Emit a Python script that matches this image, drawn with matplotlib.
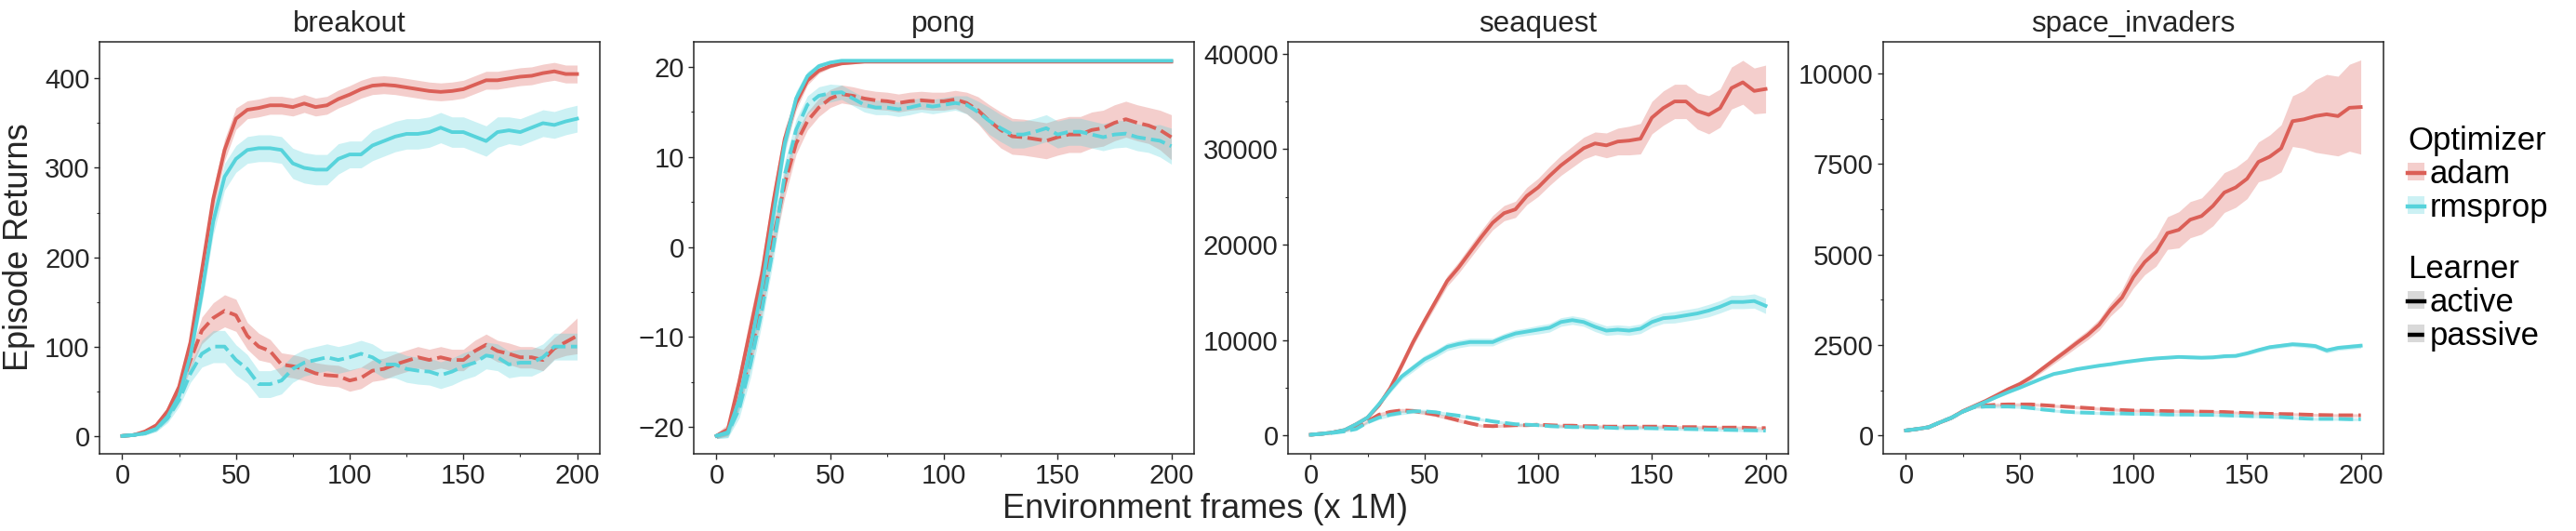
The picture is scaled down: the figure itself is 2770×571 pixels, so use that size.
import matplotlib
matplotlib.use("Agg")
import numpy as np
import matplotlib.pyplot as plt
from matplotlib.lines import Line2D
from matplotlib.patches import Patch
from matplotlib.ticker import MultipleLocator

plt.rcParams['font.family'] = ['Liberation Sans', 'DejaVu Sans']

# ---------------- data ----------------
frames = [0, 5, 10, 15, 20, 25, 30, 35, 40, 45, 50, 55, 60, 65, 70, 75, 80, 85, 90, 95, 100,
          105, 110, 115, 120, 125, 130, 135, 140, 145, 150, 155, 160, 165, 170, 175, 180, 185, 190, 195, 200]
games = ["breakout", "pong", "seaquest", "space_invaders"]
optimizers = ["adam", "rmsprop"]
learners = ["active", "passive"]

# breakout
breakout_adam_active = [0, 1, 5, 12, 28, 55, 105, 185, 265, 320, 355, 365, 367, 370, 370, 368, 372, 368, 370, 377,
                        382, 388, 392, 393, 392, 390, 388, 386, 385, 386, 388, 393, 398, 398, 400, 402, 403, 406, 408, 405, 405]
breakout_rmsprop_active = [0, 1, 3, 8, 22, 45, 90, 160, 240, 290, 310, 320, 322, 322, 320, 305, 300, 298, 298, 310,
                           315, 315, 325, 330, 335, 338, 338, 340, 345, 340, 340, 335, 330, 340, 342, 340, 345, 350, 348, 352, 355]
breakout_adam_passive = [0, 1, 4, 10, 25, 50, 85, 118, 132, 140, 135, 112, 100, 95, 80, 78, 75, 70, 68, 67,
                         62, 65, 73, 75, 80, 84, 88, 85, 88, 85, 85, 95, 102, 95, 92, 88, 88, 85, 98, 105, 112]
breakout_rmsprop_passive = [0, 1, 3, 8, 20, 40, 70, 92, 100, 100, 85, 75, 58, 58, 62, 75, 82, 85, 88, 85,
                            88, 92, 88, 80, 80, 75, 73, 72, 68, 72, 78, 82, 90, 88, 80, 82, 82, 88, 100, 100, 100]
breakout_adam_active_sd = [1, 1, 2, 3, 5, 6, 8, 10, 12, 12, 12, 10, 10, 10, 10, 10, 10, 10, 10, 10,
                           10, 10, 10, 10, 10, 10, 10, 10, 10, 10, 10, 10, 10, 10, 10, 10, 10, 10, 10, 10, 10]
breakout_rmsprop_active_sd = [1, 1, 2, 3, 5, 6, 8, 12, 15, 15, 15, 15, 15, 15, 15, 17, 17, 17, 17, 17,
                              15, 15, 17, 17, 17, 17, 17, 17, 17, 17, 17, 17, 17, 17, 15, 15, 15, 15, 15, 15, 15]
breakout_adam_passive_sd = [1, 1, 2, 3, 5, 7, 10, 15, 17, 18, 18, 15, 15, 13, 13, 13, 13, 12, 12, 12,
                            12, 12, 12, 12, 12, 12, 12, 12, 12, 12, 12, 12, 12, 12, 12, 12, 12, 12, 12, 15, 20]
breakout_rmsprop_passive_sd = [1, 1, 2, 3, 5, 7, 10, 15, 18, 18, 17, 16, 15, 15, 15, 15, 15, 15, 15, 15,
                               15, 15, 15, 15, 15, 15, 15, 15, 15, 15, 15, 15, 15, 15, 15, 15, 15, 15, 15, 15, 15]

# pong
pong_adam_active = [-21, -20.3, -15, -9, -3, 5, 12, 16, 18.5, 19.6, 20.1, 20.4, 20.5, 20.6, 20.6, 20.6, 20.6, 20.6, 20.6, 20.6,
                    20.6, 20.6, 20.6, 20.6, 20.6, 20.6, 20.6, 20.6, 20.6, 20.6, 20.6, 20.6, 20.6, 20.6, 20.6, 20.6, 20.6, 20.6, 20.6, 20.6, 20.6]
pong_rmsprop_active = [-21, -20.6, -17, -11, -4.5, 3.5, 11.5, 16.5, 19, 20.1, 20.5, 20.7, 20.7, 20.7, 20.7, 20.7, 20.7, 20.7, 20.7, 20.7,
                       20.7, 20.7, 20.7, 20.7, 20.7, 20.7, 20.7, 20.7, 20.7, 20.7, 20.7, 20.7, 20.7, 20.7, 20.7, 20.7, 20.7, 20.7, 20.7, 20.7, 20.7]
pong_adam_passive = [-21, -20.5, -17, -12, -6, 1, 7, 11.5, 14, 15.5, 16.5, 17, 16.8, 16.5, 16.3, 16.2, 16, 16.2, 16.3, 16.2,
                     16.2, 16.4, 16, 15.2, 14, 13, 12.3, 12.2, 12, 11.8, 12.2, 12.5, 12.5, 13, 13.2, 13.8, 14.2, 13.8, 13.5, 13, 12.2]
pong_rmsprop_passive = [-21, -20.7, -18, -13, -7, 0, 8, 13, 15.8, 16.8, 17.1, 17.2, 16.5, 15.8, 15.5, 15.5, 15.3, 15.5, 15.8, 15.6,
                        15.8, 16, 15.8, 15, 14, 13.2, 12.5, 12.5, 12.8, 13.2, 12.5, 12.8, 12.8, 12.5, 12.2, 12.5, 12.6, 12.2, 12, 11.8, 11.2]
pong_adam_active_sd = [0.3, 0.6, 1.2, 1.5, 1.5, 1.5, 1.2, 0.8, 0.5, 0.3, 0.2, 0.15, 0.15, 0.15, 0.15, 0.15, 0.15, 0.15, 0.15, 0.15,
                       0.15, 0.15, 0.15, 0.15, 0.15, 0.15, 0.15, 0.15, 0.15, 0.15, 0.15, 0.15, 0.15, 0.15, 0.15, 0.15, 0.15, 0.15, 0.15, 0.15, 0.15]
pong_rmsprop_active_sd = [0.3, 0.6, 1.2, 1.5, 1.5, 1.5, 1.2, 0.8, 0.5, 0.3, 0.2, 0.15, 0.15, 0.15, 0.15, 0.15, 0.15, 0.15, 0.15, 0.15,
                          0.15, 0.15, 0.15, 0.15, 0.15, 0.15, 0.15, 0.15, 0.15, 0.15, 0.15, 0.15, 0.15, 0.15, 0.15, 0.15, 0.15, 0.15, 0.15, 0.15, 0.15]
pong_adam_passive_sd = [0.3, 0.5, 1.0, 1.5, 1.5, 1.5, 1.5, 1.2, 1.0, 1.0, 1.0, 1.0, 1.0, 1.0, 1.0, 1.0, 1.0, 1.0, 1.0, 1.0,
                        1.0, 1.0, 1.2, 1.5, 1.8, 2.0, 2.0, 2.0, 2.0, 2.0, 2.0, 2.0, 2.0, 2.0, 2.0, 2.0, 2.0, 2.0, 2.0, 2.2, 2.5]
pong_rmsprop_passive_sd = [0.3, 0.5, 1.0, 1.5, 1.5, 1.5, 1.5, 1.2, 1.0, 1.0, 1.0, 0.8, 0.8, 0.8, 0.8, 0.8, 0.8, 0.8, 0.8, 0.8,
                           0.8, 0.8, 1.0, 1.2, 1.5, 1.5, 1.5, 1.5, 1.5, 1.5, 1.5, 1.5, 1.5, 1.5, 1.5, 1.5, 1.5, 1.5, 1.5, 1.8, 2.0]

# seaquest
seaquest_adam_active = [100, 200, 350, 600, 1200, 1900, 3200, 5000, 7350, 9800, 12000, 14100, 16200, 17600, 19200, 20800, 22300, 23300, 23700, 25100,
                        26000, 27200, 28300, 29200, 30100, 30600, 30400, 30800, 30900, 31100, 33300, 34300, 35000, 35000, 34000, 33600, 34300, 36400, 37000, 36100, 36300]
seaquest_rmsprop_active = [100, 200, 350, 600, 1200, 1900, 3300, 4800, 6200, 7100, 8000, 8600, 9300, 9600, 9800, 9800, 9800, 10300, 10700, 10900,
                           11100, 11300, 11900, 12100, 11900, 11400, 11000, 11100, 11000, 11200, 11900, 12300, 12400, 12600, 12800, 13100, 13500, 14000, 14000, 14100, 13600]
seaquest_adam_passive = [100, 200, 350, 550, 800, 1500, 2200, 2500, 2650, 2600, 2400, 2200, 1900, 1600, 1300, 1050, 1000, 1050, 1100, 1100,
                         1150, 1100, 1050, 1050, 1000, 1000, 950, 950, 950, 950, 950, 950, 900, 900, 900, 850, 850, 850, 850, 800, 800]
seaquest_rmsprop_passive = [100, 200, 300, 450, 700, 1400, 1900, 2200, 2400, 2550, 2550, 2450, 2250, 2100, 1900, 1700, 1500, 1350, 1200, 1150,
                            1100, 1000, 950, 900, 900, 850, 850, 800, 800, 800, 780, 750, 720, 700, 680, 650, 620, 600, 580, 560, 530]
seaquest_adam_active_sd = [50, 50, 80, 100, 150, 200, 250, 300, 350, 400, 450, 500, 550, 600, 650, 700, 750, 800, 850, 900,
                           950, 1000, 1050, 1100, 1150, 1200, 1300, 1400, 1500, 1600, 1700, 1800, 1800, 1800, 1900, 2000, 2000, 2200, 2300, 2400, 2500]
seaquest_rmsprop_active_sd = [50, 50, 80, 100, 150, 200, 250, 300, 350, 400, 400, 400, 400, 400, 400, 400, 400, 400, 400, 400,
                              450, 450, 450, 450, 450, 500, 500, 500, 500, 500, 550, 550, 600, 600, 600, 650, 650, 700, 700, 750, 800]
seaquest_adam_passive_sd = [50, 50, 80, 100, 120, 150, 200, 200, 200, 200, 200, 200, 200, 200, 150, 150, 150, 150, 150, 150,
                            150, 150, 150, 150, 150, 150, 150, 150, 150, 150, 150, 150, 150, 150, 150, 150, 150, 150, 150, 150, 150]
seaquest_rmsprop_passive_sd = [50, 50, 80, 100, 120, 150, 200, 200, 200, 200, 200, 200, 200, 200, 150, 150, 150, 150, 150, 150,
                               150, 150, 150, 150, 150, 150, 150, 150, 150, 150, 150, 150, 150, 150, 150, 150, 150, 150, 150, 150, 150]

# space_invaders
space_invaders_adam_active = [140, 180, 230, 365, 490, 675, 815, 955, 1115, 1280, 1420, 1610, 1845, 2080, 2310, 2550, 2780, 3060, 3480, 3810,
                              4370, 4790, 5075, 5590, 5680, 5960, 6060, 6340, 6710, 6850, 7090, 7555, 7700, 7930, 8680, 8730, 8820, 8870, 8820, 9050, 9070]
space_invaders_rmsprop_active = [140, 180, 230, 365, 490, 660, 800, 930, 1070, 1200, 1320, 1450, 1580, 1700, 1760, 1830, 1880, 1930, 1970, 2020,
                                 2060, 2100, 2130, 2150, 2170, 2160, 2150, 2160, 2190, 2200, 2270, 2360, 2440, 2480, 2520, 2500, 2470, 2350, 2420, 2450, 2480]
space_invaders_adam_passive = [140, 180, 230, 365, 490, 660, 790, 830, 850, 860, 860, 860, 840, 820, 800, 780, 760, 740, 720, 705,
                               690, 685, 680, 675, 670, 665, 660, 655, 650, 635, 620, 610, 600, 595, 590, 580, 570, 565, 560, 560, 560]
space_invaders_rmsprop_passive = [140, 180, 230, 365, 490, 660, 780, 800, 800, 800, 790, 760, 720, 690, 660, 640, 630, 620, 610, 610,
                                  600, 600, 590, 580, 580, 580, 570, 570, 560, 550, 540, 530, 520, 510, 490, 470, 460, 460, 460, 450, 450]
space_invaders_adam_active_sd = [30, 30, 40, 40, 50, 50, 60, 60, 70, 70, 80, 80, 90, 100, 110, 120, 130, 150, 180, 220,
                                 300, 350, 400, 450, 500, 500, 500, 550, 550, 550, 550, 550, 600, 650, 700, 800, 1000, 1100, 1100, 1200, 1300]
space_invaders_rmsprop_active_sd = [30, 30, 40, 40, 40, 40, 40, 40, 40, 40, 40, 40, 40, 40, 40, 40, 40, 40, 40, 40,
                                    40, 40, 40, 40, 40, 50, 50, 50, 50, 50, 50, 60, 60, 60, 60, 70, 70, 70, 70, 70, 70]
space_invaders_adam_passive_sd = [30, 30, 30, 30, 30, 30, 30, 40, 40, 40, 40, 40, 40, 40, 40, 40, 40, 40, 40, 40,
                                  40, 40, 40, 40, 40, 40, 40, 40, 40, 40, 40, 40, 40, 40, 40, 40, 40, 40, 40, 40, 40]
space_invaders_rmsprop_passive_sd = [30, 30, 30, 30, 30, 30, 30, 40, 40, 40, 40, 40, 40, 40, 40, 40, 40, 40, 40, 40,
                                     40, 40, 40, 40, 40, 40, 40, 40, 40, 40, 40, 40, 40, 40, 40, 40, 40, 40, 40, 40, 40]

y_ticks = {
    "breakout": [0, 100, 200, 300, 400],
    "pong": [-20, -10, 0, 10, 20],
    "seaquest": [0, 10000, 20000, 30000, 40000],
    "space_invaders": [0, 2500, 5000, 7500, 10000],
}
x_ticks = [0, 50, 100, 150, 200]

# ---------------- style ----------------
colors = {"adam": "#db5f57", "rmsprop": "#57d3db"}
styles = {"active": "-", "passive": (0, (4, 1.5))}
ylims = {"breakout": (-20, 441), "pong": (-23, 22.8),
         "seaquest": (-1900, 41240), "space_invaders": (-505, 10870)}
minor_steps = {"breakout": 50, "pong": 5, "seaquest": 5000, "space_invaders": 1250}

W, H = 2770, 571
fig = plt.figure(figsize=(W / 100, H / 100), dpi=100)
lefts = [107, 746, 1385, 2025]
ax_w, ax_top, ax_bot = 538, 45, 488
tick_col = "#262626"

data = globals()
for gi, game in enumerate(games):
    ax = fig.add_axes([lefts[gi] / W, (H - ax_bot) / H, ax_w / W, (ax_bot - ax_top) / H])
    x = np.array(frames)
    for opt in optimizers:
        for lrn in learners:
            m = np.array(data[f"{game}_{opt}_{lrn}"], dtype=float)
            sd = np.array(data[f"{game}_{opt}_{lrn}_sd"], dtype=float)
            ax.fill_between(x, m - sd, m + sd, color=colors[opt], alpha=0.3, lw=0)
            ax.plot(x, m, color=colors[opt], lw=2.8, linestyle=styles[lrn])
    ax.set_xlim(-10, 210)
    ax.set_ylim(*ylims[game])
    ax.set_xticks(x_ticks)
    ax.set_yticks(y_ticks[game])
    ax.xaxis.set_minor_locator(MultipleLocator(25))
    ax.yaxis.set_minor_locator(MultipleLocator(minor_steps[game]))
    ax.tick_params(which="major", direction="out", length=4.5, width=1.0, labelsize=21,
                   colors=tick_col, pad=3)
    ax.tick_params(which="minor", direction="out", length=2.5, width=0.8, colors=tick_col)
    for s in ax.spines.values():
        s.set_color(tick_col)
        s.set_linewidth(1.1)
    ax.set_title(game, fontsize=22.5, color=tick_col, pad=8)

fig.text(21 / W, 1 - 266 / H, "Episode Returns", rotation=90, ha="center", va="center",
         fontsize=26, color=tick_col)
fig.text(1296 / W, 14 / H, "Environment frames (x 1M)", ha="center", va="baseline",
         fontsize=26, color=tick_col)

def mkhandle(color, ls, alpha):
    return (Patch(facecolor=color, alpha=alpha, edgecolor="none"),
            Line2D([], [], color=color, lw=3.2, linestyle=ls))

h_opt = [mkhandle(colors[o], "-", 0.3) for o in optimizers]
h_lrn = [mkhandle("black", styles[l], 0.15) for l in learners]
common = dict(loc="upper left", frameon=False, fontsize=25, title_fontsize=25,
              handlelength=0.52, handleheight=0.45, handletextpad=0.15, labelspacing=0.08,
              borderpad=0, borderaxespad=0, alignment="left")
fig.legend(h_opt, optimizers, title="Optimizer", bbox_to_anchor=(2589 / W, 1 - 135 / H), **common)
fig.legend(h_lrn, learners, title="Learner", bbox_to_anchor=(2589 / W, 1 - 273 / H), **common)

fig.savefig("out.png", dpi=100)
